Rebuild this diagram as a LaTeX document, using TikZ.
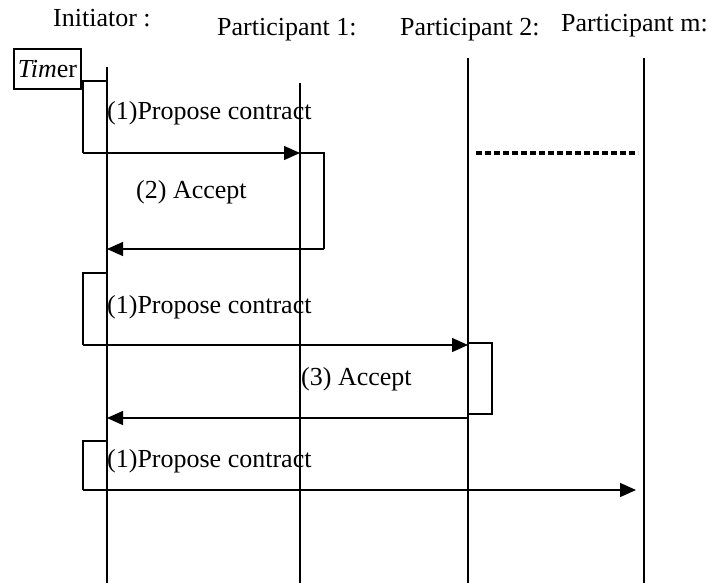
\documentclass[tikz,border=0pt]{standalone}
\usepackage{fontspec}
\setmainfont{Liberation Serif}
\usetikzlibrary{arrows.meta}
\begin{document}
\begin{tikzpicture}[x=1pt,y=-1pt,
  lifeline/.style={line width=2pt},
  msg/.style={line width=1.4pt,-{Triangle[length=16pt,width=14pt]}},
  actbox/.style={line width=1.4pt},
  lbl/.style={inner sep=0pt,anchor=base west,font=\fontsize{26}{30}\selectfont},
  timerbox/.style={draw,line width=1.2pt,inner sep=0pt,minimum width=67pt,minimum height=40pt,font=\fontsize{26}{30}\selectfont}]
\useasboundingbox (0,0) rectangle (727,583);

% headings
\node[lbl] (hI)  at (53,27)  {Initiator :};
\node[lbl] (h1)  at (217,36) {Participant 1:};
\node[lbl] (h2)  at (400,36) {Participant 2:};
\node[lbl] (hm)  at (561,32) {Participant m:};

% timer
\node[timerbox] (timer) at (47.5,69) {\textit{Tim}er};

% lifelines
\coordinate (I0) at (107,67);  \coordinate (I1) at (107,583);
\coordinate (A0) at (300,83);  \coordinate (A1) at (300,583);
\coordinate (B0) at (468,58);  \coordinate (B1) at (468,583);
\coordinate (M0) at (644,58);  \coordinate (M1) at (644,583);
\draw[lifeline] (I0) -- (I1);
\draw[lifeline] (A0) -- (A1);
\draw[lifeline] (B0) -- (B1);
\draw[lifeline] (M0) -- (M1);

% further participants
\coordinate (d0) at (476,153); \coordinate (d1) at (638,153);
\draw[line width=4pt,dash pattern=on 6pt off 3pt] (d0) -- (d1);

% round 1: participant 1
\coordinate (a1) at (107,81);  \coordinate (a2) at (83,81);  \coordinate (a3) at (83,153);
\coordinate (a4) at (300,153);
\draw[actbox] (a1) -- (a2) -- (a3);
\draw[msg] (a3) -- (a4);
\node[lbl] (t1) at (107,120) {(1)Propose contract};
\coordinate (b1) at (324,153); \coordinate (b2) at (324,249); \coordinate (b3) at (107,249);
\draw[actbox] (a4) -- (b1) -- (b2);
\draw[msg] (b2) -- (b3);
\node[lbl] (t2) at (136,198) {(2) Accept};

% round 2: participant 2
\coordinate (c1) at (107,273); \coordinate (c2) at (83,273); \coordinate (c3) at (83,345);
\coordinate (c4) at (468,345);
\draw[actbox] (c1) -- (c2) -- (c3);
\draw[msg] (c3) -- (c4);
\node[lbl] (t3) at (107,313) {(1)Propose contract};
\coordinate (e0) at (468,343); \coordinate (e1) at (492,343); \coordinate (e2) at (492,414);
\coordinate (e3) at (468,414);
\draw[actbox] (e0) -- (e1) -- (e2) -- (e3);
\coordinate (f0) at (468,418); \coordinate (f1) at (107,418);
\draw[msg] (f0) -- (f1);
\node[lbl] (t4) at (301,385) {(3) Accept};

% round 3: participant m
\coordinate (g1) at (107,441); \coordinate (g2) at (83,441); \coordinate (g3) at (83,490);
\coordinate (g4) at (636,490);
\draw[actbox] (g1) -- (g2) -- (g3);
\draw[msg] (g3) -- (g4);
\node[lbl] (t5) at (107,467) {(1)Propose contract};
\end{tikzpicture}
\end{document}
